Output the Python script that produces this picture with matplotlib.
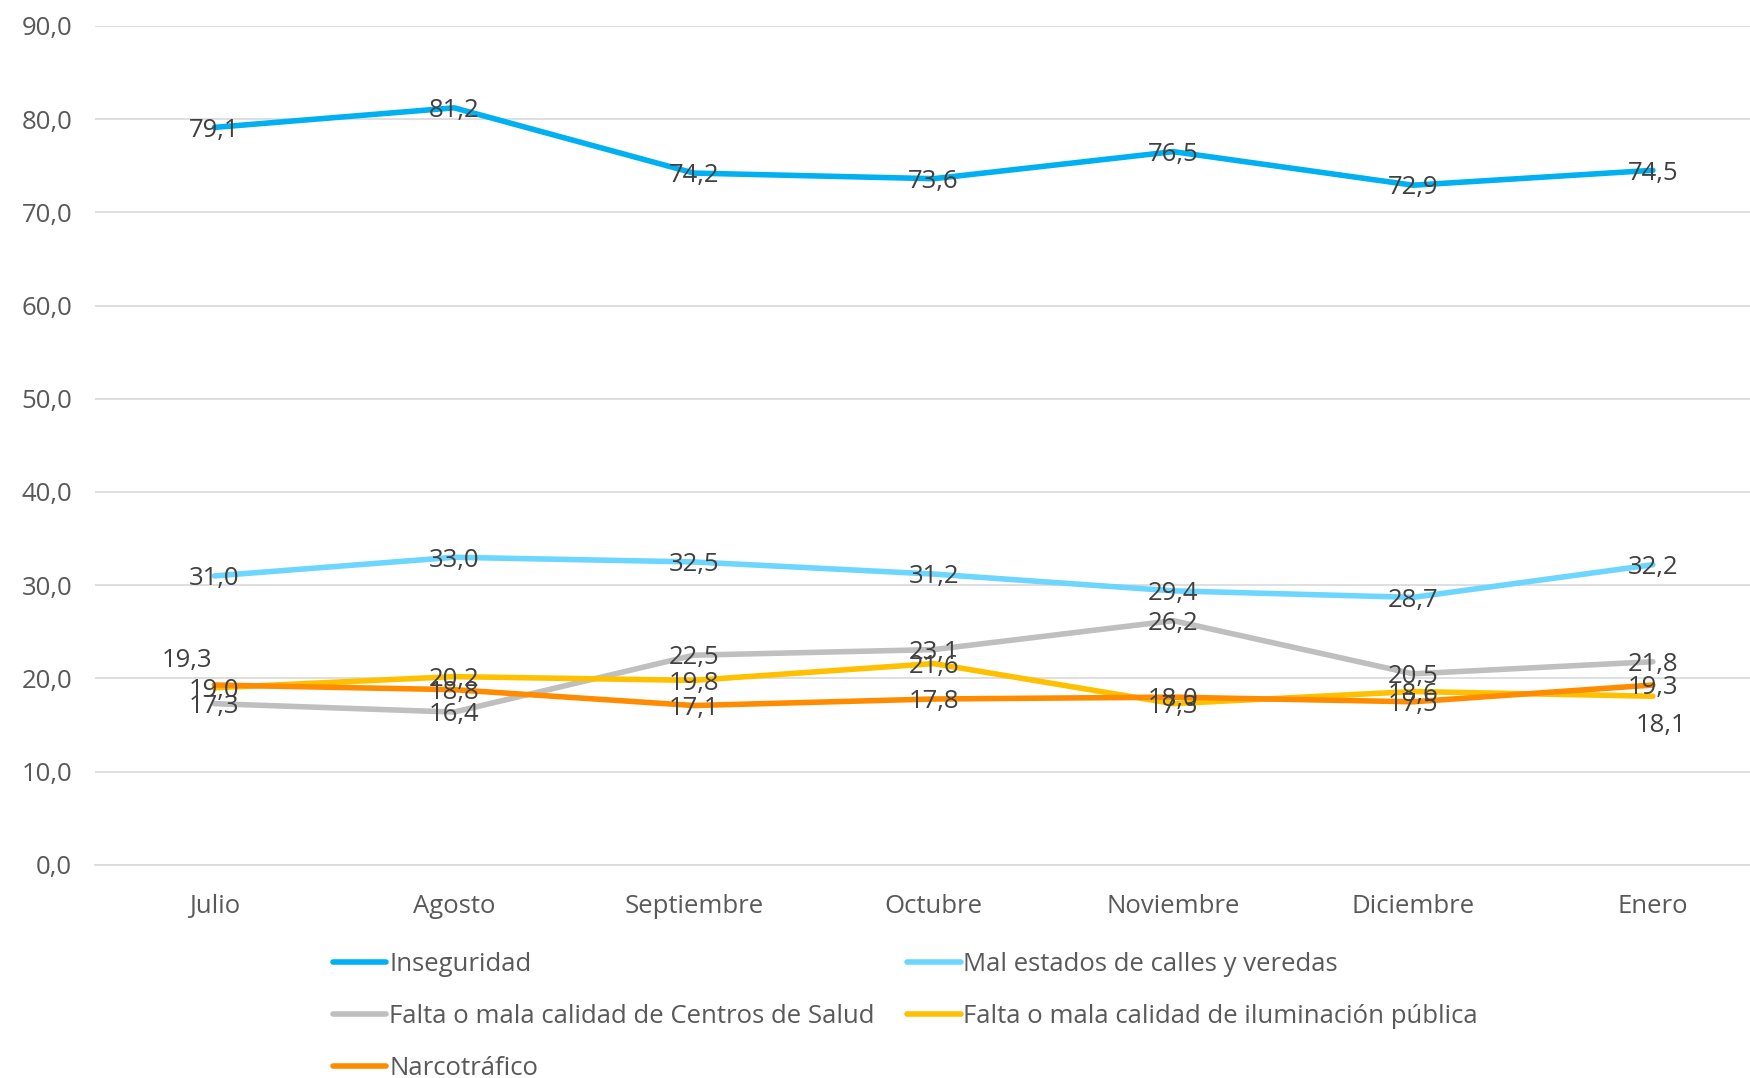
import matplotlib
matplotlib.use("Agg")
import matplotlib.pyplot as plt
from matplotlib.ticker import FuncFormatter

months = ["Julio", "Agosto", "Septiembre", "Octubre", "Noviembre", "Diciembre", "Enero"]
series_names = [
    "Inseguridad",
    "Mal estados de calles y veredas",
    "Falta o mala calidad de Centros de Salud",
    "Falta o mala calidad de iluminación pública",
    "Narcotráfico",
]
inseguridad = [79.1, 81.2, 74.2, 73.6, 76.5, 72.9, 74.5]
calles = [31.0, 33.0, 32.5, 31.2, 29.4, 28.7, 32.2]
salud = [17.3, 16.4, 22.5, 23.1, 26.2, 20.5, 21.8]
iluminacion = [19.0, 20.2, 19.8, 21.6, 17.3, 18.6, 18.1]
narco = [19.3, 18.8, 17.1, 17.8, 18.0, 17.5, 19.3]
yticks = [0, 10, 20, 30, 40, 50, 60, 70, 80, 90]

colors = ["#00B0F0", "#6DD6FF", "#BFBFBF", "#FFC000", "#FF8C00"]
all_series = [inseguridad, calles, salud, iluminacion, narco]

plt.rcParams['font.family'] = ['Open Sans', 'DejaVu Sans']
fig = plt.figure(figsize=(17.5, 10.78), dpi=100)
ax = fig.add_axes([0.054, 0.1976, 0.959, 0.7785])

x = list(range(len(months)))
lines = []
for name, vals, c in zip(series_names, all_series, colors):
    ln, = ax.plot(x, vals, color=c, lw=4.0, solid_capstyle='round', label=name, zorder=3)
    lines.append(ln)

# data labels (centered on points, with a couple of manual offsets)
offsets = {(4, 0): (-20, 20), (3, 6): (6, -19)}
for si, vals in enumerate(all_series):
    for i, v in enumerate(vals):
        dx, dy = offsets.get((si, i), (0, 0))
        ax.annotate(f"{v:.1f}".replace(".", ","), (i, v), xytext=(dx, dy - 2),
                    textcoords="offset points", ha="center", va="center",
                    fontsize=18.5, color="#404040", zorder=5)

ax.set_xlim(-0.5, len(months) - 0.5)
ax.set_ylim(0, 90)
ax.set_yticks(yticks)
ax.yaxis.set_major_formatter(FuncFormatter(lambda v, p: f"{v:.1f}".replace(".", ",")))
ax.set_xticks(x)
ax.set_xticklabels(months)
ax.tick_params(axis='both', length=0, labelsize=18.5, colors="#595959")
ax.tick_params(axis='x', pad=21)
ax.tick_params(axis='y', pad=16)
ax.grid(axis='y', color="#D9D9D9", lw=1.2, zorder=0)
for s in ["top", "right", "left"]:
    ax.spines[s].set_visible(False)
ax.spines["bottom"].set_color("#D9D9D9")
ax.spines["bottom"].set_linewidth(1.2)

order = [0, 2, 4, 1, 3]
leg = fig.legend(handles=[lines[i] for i in order], loc="upper left",
                 bbox_to_anchor=(0.19, 0.117), ncol=2,
                 frameon=False, fontsize=18.5, labelcolor="#595959", handlelength=2.1,
                 handletextpad=0.1, columnspacing=1.25, labelspacing=1.05,
                 borderaxespad=0, borderpad=0)
fig.savefig("out.png", dpi=100)
